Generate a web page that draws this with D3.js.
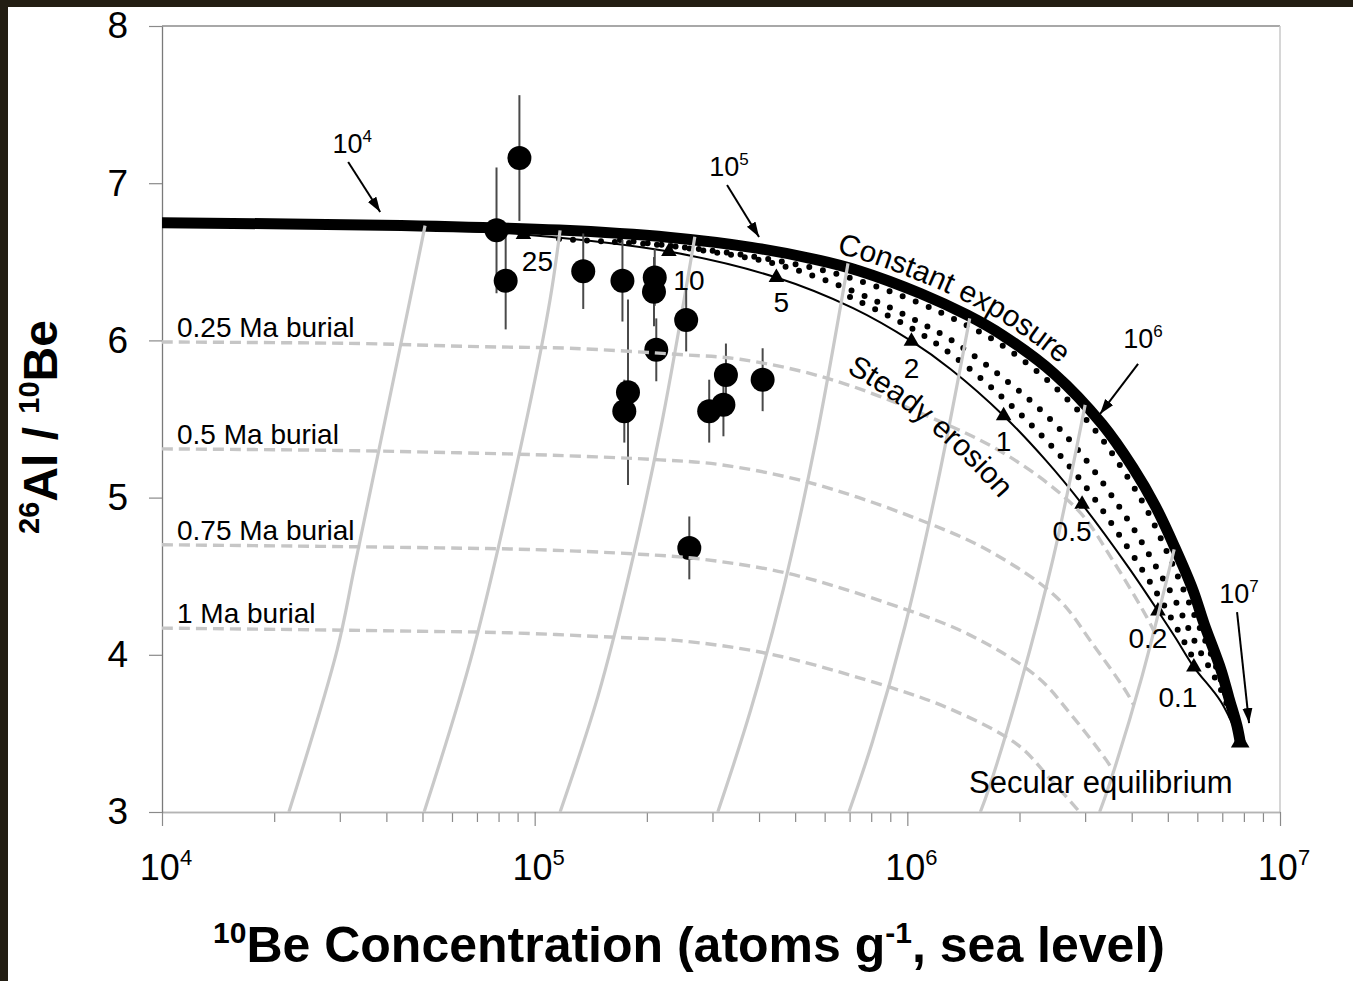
<!DOCTYPE html>
<html>
<head>
<meta charset="utf-8">
<title>26Al/10Be two-isotope diagram</title>
<script src="https://cdn.jsdelivr.net/npm/d3@7/dist/d3.min.js"></script>
<style>
  html, body { margin: 0; padding: 0; background: #231e13; }
  svg { display: block; font-family: "Liberation Sans", Arial, Helvetica, sans-serif; }
</style>
</head>
<body>
<svg id="chart" width="1353" height="981"></svg>
<script>
// ---------- axis ticks ----------
const ratioTicks = [3, 4, 5, 6, 7, 8];
const beMajorTicks = [1e4, 1e5, 1e6, 1e7];
const beTickExponents = ["4", "5", "6", "7"];

// ---------- measured samples (10Be atoms/g, 26Al/10Be, 1-sigma) ----------
const sampleBe    = [9.1e4, 7.9e4, 8.36e4, 1.35e5, 1.72e5, 2.10e5, 2.09e5, 2.12e5, 2.55e5, 1.78e5, 1.74e5, 3.26e5, 3.21e5, 2.94e5, 4.09e5, 2.60e5];
const sampleRatio = [7.16, 6.70, 6.38, 6.44, 6.38, 6.40, 6.31, 5.94, 6.13, 5.67, 5.55, 5.78, 5.59, 5.55, 5.75, 4.68];
const sampleErr   = [0.40, 0.40, 0.31, 0.24, 0.26, 0.18, 0.22, 0.20, 0.20, 0.59, 0.20, 0.20, 0.20, 0.20, 0.20, 0.20];

// ---------- constant exposure curve ----------
const exposureBe    = [1.0e4, 3.90e4, 1.164e5, 2.311e5, 3.814e5, 5.651e5, 7.442e5, 1.089e6, 1.446e6, 1.806e6, 2.475e6, 3.330e6, 4.032e6, 4.620e6, 5.226e6, 5.843e6, 6.252e6, 6.944e6, 7.297e6, 7.667e6, 7.82e6];
const exposureRatio = [6.748, 6.733, 6.702, 6.655, 6.592, 6.516, 6.442, 6.297, 6.162, 6.031, 5.789, 5.468, 5.190, 4.950, 4.681, 4.410, 4.199, 3.904, 3.724, 3.548, 3.444];

// ---------- steady erosion curve ----------
const erosionBe    = [1.0e4, 4.69e4, 9.33e4, 2.292e5, 4.453e5, 7.151e5, 1.0257e6, 1.310e6, 1.813e6, 2.357e6, 2.944e6, 3.922e6, 4.704e6, 5.232e6, 5.874e6, 6.944e6, 7.82e6];
const erosionRatio = [6.742, 6.711, 6.674, 6.565, 6.400, 6.205, 5.995, 5.815, 5.521, 5.235, 4.958, 4.556, 4.279, 4.112, 3.922, 3.701, 3.444];

// erosion-rate markers along the steady erosion curve (m/Ma)
const erosionMarkLabels = ["25", "10", "5", "2", "1", "0.5", "0.2", "0.1", ""];
const erosionMarkBe     = [9.33e4, 2.292e5, 4.453e5, 1.0257e6, 1.813e6, 2.944e6, 4.704e6, 5.874e6, 7.82e6];
const erosionMarkRatio  = [6.674, 6.565, 6.400, 5.995, 5.521, 4.958, 4.279, 3.922, 3.444];

// ---------- dotted intermediate curves ----------
const dottedBe = [
  [1.163e5, 2.308e5, 3.783e5, 5.583e5, 7.326e5, 1.061e6, 1.402e6, 1.740e6, 2.371e6, 3.188e6, 3.837e6, 4.397e6, 4.975e6, 5.559e6, 6.062e6, 6.818e6, 7.82e6],
  [1.694e5, 2.777e5, 4.442e5, 7.148e5, 1.023e6, 1.310e6, 1.806e6, 2.356e6, 2.943e6, 3.910e6, 4.706e6, 5.226e6, 5.879e6, 6.944e6, 7.82e6],
  [7.018e5, 1.023e6, 1.310e6, 1.806e6, 2.356e6, 2.943e6, 3.910e6, 4.706e6, 5.226e6, 5.879e6]
];
const dottedRatio = [
  [6.645, 6.601, 6.537, 6.461, 6.384, 6.244, 6.111, 5.990, 5.748, 5.430, 5.156, 4.921, 4.654, 4.393, 4.183, 3.891, 3.445],
  [6.639, 6.575, 6.486, 6.314, 6.142, 6.003, 5.761, 5.525, 5.271, 4.857, 4.539, 4.349, 4.094, 3.776, 3.445],
  [6.276, 6.079, 5.913, 5.634, 5.366, 5.099, 4.679, 4.380, 4.190, 3.967]
];

// ---------- burial trajectories (grey solid) ----------
const burialPathBe = [
  [5.08e4, 4.63e4, 3.30e4, 2.95e4, 2.19e4],
  [1.17e5, 1.10e5, 9.58e4, 6.84e4, 5.05e4],
  [2.69e5, 2.20e5, 1.80e5, 1.48e5, 1.17e5],
  [6.93e5, 5.67e5, 4.65e5, 3.80e5, 3.10e5],
  [1.47e6, 1.20e6, 9.85e5, 8.07e5, 6.97e5],
  [3.00e6, 2.46e6, 2.01e6, 1.65e6, 1.57e6],
  [5.20e6, 4.26e6, 3.49e6, 3.28e6]
];
const burialPathRatio = [
  [6.73, 6.26, 4.58, 4.03, 3.0],
  [6.70, 6.26, 5.53, 4.03, 3.0],
  [6.66, 5.49, 4.53, 3.74, 3.0],
  [6.49, 5.35, 4.42, 3.65, 3.0],
  [6.14, 5.07, 4.18, 3.45, 3.0],
  [5.59, 4.61, 3.81, 3.14, 3.0],
  [4.67, 3.86, 3.18, 3.0]
];

// ---------- iso-burial lines (grey dashed) ----------
const isoBurialLabels = ["0.25 Ma burial", "0.5 Ma burial", "0.75 Ma burial", "1 Ma burial"];
const isoBurialBe = [
  [1.0e4, 3.4e4, 7.12e4, 1.24e5, 2.45e5, 3.56e5, 6.08e5, 1.13e6, 1.88e6, 2.87e6, 3.56e6, 4.39e6, 4.59e6],
  [1.0e4, 3.0e4, 6.28e4, 1.10e5, 2.17e5, 3.14e5, 5.37e5, 9.97e5, 1.66e6, 2.53e6, 3.14e6, 3.88e6, 4.05e6],
  [1.0e4, 2.65e4, 5.55e4, 9.69e4, 1.91e5, 2.77e5, 4.74e5, 8.80e5, 1.46e6, 2.23e6, 2.77e6, 3.42e6, 3.57e6],
  [1.0e4, 2.34e4, 4.89e4, 8.55e4, 1.69e5, 2.44e5, 4.18e5, 7.76e5, 1.29e6, 1.97e6, 2.44e6, 2.90e6]
];
const isoBurialRatio = [
  [5.99, 5.98, 5.96, 5.95, 5.91, 5.88, 5.76, 5.52, 5.26, 4.92, 4.60, 4.24, 4.15],
  [5.31, 5.30, 5.285, 5.27, 5.24, 5.21, 5.10, 4.89, 4.66, 4.36, 4.07, 3.76, 3.68],
  [4.70, 4.69, 4.68, 4.67, 4.64, 4.61, 4.52, 4.33, 4.13, 3.86, 3.61, 3.33, 3.26],
  [4.17, 4.16, 4.15, 4.14, 4.11, 4.09, 4.01, 3.84, 3.66, 3.43, 3.20, 3.0]
];

// ---------- exposure-age annotations on the constant exposure curve ----------
const ageExponents = ["4", "5", "6", "7"];
const ageTipBe     = [3.85e4, 4.0e5, 3.29e6, 8.26e6];
const ageTipRatio  = [6.817, 6.658, 5.532, 3.566];

// =====================================================================
const W = 1353, H = 981;
const svg = d3.select("#chart");

svg.append("rect").attr("width", W).attr("height", H).attr("fill", "#231e13");
svg.append("rect").attr("x", 8).attr("y", 7).attr("width", W - 8).attr("height", H - 7).attr("fill", "#ffffff");

const x = d3.scaleLog().domain([1e4, 1e7]).range([162, 1280]);
const y = d3.scaleLinear().domain([3, 8]).range([812, 26]);

const defs = svg.append("defs");
defs.append("clipPath").attr("id", "plotClip")
  .append("rect").attr("x", x.range()[0]).attr("y", y.range()[1])
  .attr("width", x.range()[1] - x.range()[0]).attr("height", y.range()[0] - y.range()[1]);

defs.append("marker").attr("id", "arrowHead")
  .attr("markerUnits", "userSpaceOnUse")
  .attr("markerWidth", 16).attr("markerHeight", 12)
  .attr("refX", 15).attr("refY", 5).attr("orient", "auto")
  .append("path").attr("d", "M0,0 L15,5 L0,10 Z").attr("fill", "#000");

const zip = (a, b) => a.map((v, i) => [v, b[i]]);
const lineCR = d3.line().x(d => x(d[0])).y(d => y(d[1])).curve(d3.curveCatmullRom.alpha(0.5));

// ---------- frame ----------
const frame = svg.append("g");
frame.append("line").attr("x1", x.range()[0]).attr("x2", x.range()[1]).attr("y1", y(8)).attr("y2", y(8))
  .attr("stroke", "#a8a8a8").attr("stroke-width", 2);
frame.append("line").attr("x1", x.range()[1]).attr("x2", x.range()[1]).attr("y1", y(8)).attr("y2", y(3))
  .attr("stroke", "#c8c8c8").attr("stroke-width", 1.5);

// ---------- axes ----------
const xMinor = [];
[1e4, 1e5, 1e6].forEach(dec => { for (let k = 2; k <= 9; k++) xMinor.push(k * dec); });

const gxMinor = svg.append("g").attr("transform", `translate(0,${y(3)})`)
  .call(d3.axisBottom(x).tickValues(xMinor).tickSize(10).tickSizeOuter(0).tickFormat(() => ""));
const gxMajor = svg.append("g").attr("transform", `translate(0,${y(3)})`)
  .call(d3.axisBottom(x).tickValues(beMajorTicks).tickSize(14).tickSizeOuter(0).tickFormat(() => ""));
[gxMinor, gxMajor].forEach(g => {
  g.select(".domain").attr("stroke", "#b4b4b4").attr("stroke-width", 1.5);
  g.selectAll(".tick line").attr("stroke", "#8a8a8a").attr("stroke-width", 1.2);
});

const gy = svg.append("g").attr("transform", `translate(${x(1e4)},0)`)
  .call(d3.axisLeft(y).tickValues(ratioTicks).tickSize(13).tickSizeOuter(0).tickPadding(21).tickFormat(d3.format("d")));
gy.select(".domain").attr("stroke", "#7a7a7a").attr("stroke-width", 1.3);
gy.selectAll(".tick line").attr("stroke", "#8a8a8a").attr("stroke-width", 1.2);
gy.selectAll(".tick text").attr("font-size", 37).attr("fill", "#000")
  .attr("font-family", "'Liberation Sans', Arial, sans-serif");

// x tick labels 10^n
const xl = svg.append("g").attr("font-size", 36).attr("fill", "#000");
beMajorTicks.forEach((v, i) => {
  const t = xl.append("text").attr("x", x(v) + 4).attr("y", 880).attr("text-anchor", "middle");
  t.append("tspan").text("10");
  t.append("tspan").attr("font-size", 22).attr("dy", -15).text(beTickExponents[i]);
});

// axis titles
const xt = svg.append("text").attr("x", 689).attr("y", 962).attr("text-anchor", "middle")
  .attr("font-size", 50).attr("font-weight", "bold").attr("fill", "#000");
xt.append("tspan").attr("font-size", 30).attr("dy", -19).text("10");
xt.append("tspan").attr("dy", 19).text("Be Concentration (atoms g");
xt.append("tspan").attr("font-size", 30).attr("dy", -19).text("-1");
xt.append("tspan").attr("dy", 19).text(", sea level)");

const yt = svg.append("text").attr("transform", "translate(57,427) rotate(-90)").attr("text-anchor", "middle")
  .attr("font-size", 48).attr("font-weight", "bold").attr("fill", "#000");
yt.append("tspan").attr("font-size", 29).attr("dy", -18).text("26");
yt.append("tspan").attr("dy", 18).text("Al / ");
yt.append("tspan").attr("font-size", 29).attr("dy", -18).text("10");
yt.append("tspan").attr("dy", 18).text("Be");

// ---------- plot contents ----------
const plot = svg.append("g").attr("clip-path", "url(#plotClip)");

// constant exposure (thick)
const expPath = plot.append("path")
  .attr("d", lineCR(zip(exposureBe, exposureRatio)))
  .attr("fill", "none").attr("stroke", "#000").attr("stroke-width", 11)
  .attr("stroke-linejoin", "round");

// dotted intermediate curves
dottedBe.forEach((arr, i) => {
  plot.append("path").attr("d", lineCR(zip(arr, dottedRatio[i])))
    .attr("fill", "none").attr("stroke", "#000").attr("stroke-width", 6)
    .attr("stroke-linecap", "round").attr("stroke-dasharray", "0,14");
});

// steady erosion (thin)
const eroPath = plot.append("path")
  .attr("d", lineCR(zip(erosionBe, erosionRatio)))
  .attr("fill", "none").attr("stroke", "#000").attr("stroke-width", 2);

// erosion-rate triangles
const tri = d3.symbol().type(d3.symbolTriangle);
erosionMarkBe.forEach((v, i) => {
  plot.append("path").attr("d", tri.size(i === erosionMarkBe.length - 1 ? 150 : 105)())
    .attr("transform", `translate(${x(v)},${y(erosionMarkRatio[i])})`)
    .attr("fill", "#000");
});

// burial trajectories
burialPathBe.forEach((arr, i) => {
  plot.append("path").attr("d", lineCR(zip(arr, burialPathRatio[i])))
    .attr("fill", "none").attr("stroke", "#c9c9c9").attr("stroke-width", 3.2);
});

// samples: error bars then symbols
const samples = sampleBe.map((v, i) => ({ be: v, r: sampleRatio[i], e: sampleErr[i] }));
plot.selectAll("line.err").data(samples).join("line").attr("class", "err")
  .attr("x1", d => x(d.be)).attr("x2", d => x(d.be))
  .attr("y1", d => y(d.r + d.e)).attr("y2", d => y(d.r - d.e))
  .attr("stroke", "#4a4a4a").attr("stroke-width", 2);
plot.selectAll("circle.smp").data(samples).join("circle").attr("class", "smp")
  .attr("cx", d => x(d.be)).attr("cy", d => y(d.r)).attr("r", 12).attr("fill", "#000");

// iso-burial dashed lines
isoBurialBe.forEach((arr, i) => {
  plot.append("path").attr("d", lineCR(zip(arr, isoBurialRatio[i])))
    .attr("fill", "none").attr("stroke", "#c6c6c6").attr("stroke-width", 3.4)
    .attr("stroke-dasharray", "11,6");
});

// ---------- labels ----------
const lab = svg.append("g").attr("fill", "#000");

isoBurialLabels.forEach((t, i) => {
  lab.append("text").attr("x", 177).attr("y", y(isoBurialRatio[i][0]) - 5)
    .attr("font-size", 28).text(t);
});

const markLabelOffset = [[14, 37], [20, 38], [5, 34], [0, 37], [0, 35], [-10, 37], [-10, 37], [-16, 40], [0, 0]];
erosionMarkLabels.forEach((t, i) => {
  if (!t) return;
  lab.append("text")
    .attr("x", x(erosionMarkBe[i]) + markLabelOffset[i][0])
    .attr("y", y(erosionMarkRatio[i]) + markLabelOffset[i][1])
    .attr("text-anchor", "middle").attr("font-size", 28).text(t);
});

lab.append("text").attr("x", 969).attr("y", 793).attr("font-size", 31).text("Secular equilibrium");

// exposure-age arrows
const ageTail = [[-32, -50], [-32, -52], [38, -50], [-12, -111]];
const ageLab = [[-28, -59], [-30, -61], [43, -66], [-10, -120]];
ageTipBe.forEach((v, i) => {
  const tx = x(v), ty = y(ageTipRatio[i]);
  lab.append("line")
    .attr("x1", tx + ageTail[i][0]).attr("y1", ty + ageTail[i][1])
    .attr("x2", tx).attr("y2", ty)
    .attr("stroke", "#000").attr("stroke-width", 2).attr("marker-end", "url(#arrowHead)");
  const t = lab.append("text").attr("x", tx + ageLab[i][0]).attr("y", ty + ageLab[i][1])
    .attr("text-anchor", "middle").attr("font-size", 27);
  t.append("tspan").text("10");
  t.append("tspan").attr("font-size", 17).attr("dy", -11).text(ageExponents[i]);
});

// curve labels following the curves
function offsetCurve(node, dist) {
  const L = node.getTotalLength();
  const pts = [];
  for (let s = 0; s <= L; s += 3) {
    const p = node.getPointAtLength(s);
    const a = node.getPointAtLength(Math.max(0, s - 2));
    const b = node.getPointAtLength(Math.min(L, s + 2));
    let dx = b.x - a.x, dy = b.y - a.y;
    const n = Math.hypot(dx, dy) || 1;
    dx /= n; dy /= n;
    pts.push([p.x + dist * dy, p.y - dist * dx]);
  }
  return pts;
}
function curvedLabel(node, dist, startX, id, text, size) {
  const pts = offsetCurve(node, dist);
  const p = defs.append("path").attr("id", id)
    .attr("d", d3.line().curve(d3.curveBasis)(pts));
  const pn = p.node();
  const L = pn.getTotalLength();
  let start = 0;
  for (let s = 0; s <= L; s += 1) { if (pn.getPointAtLength(s).x >= startX) { start = s; break; } }
  lab.append("text").attr("font-size", size)
    .append("textPath").attr("href", "#" + id).attr("startOffset", start).text(text);
}
curvedLabel(expPath.node(), 11, 836, "expLabelPath", "Constant exposure", 30);
curvedLabel(eroPath.node(), -60, 846, "eroLabelPath", "Steady erosion", 30);
</script>
</body>
</html>
